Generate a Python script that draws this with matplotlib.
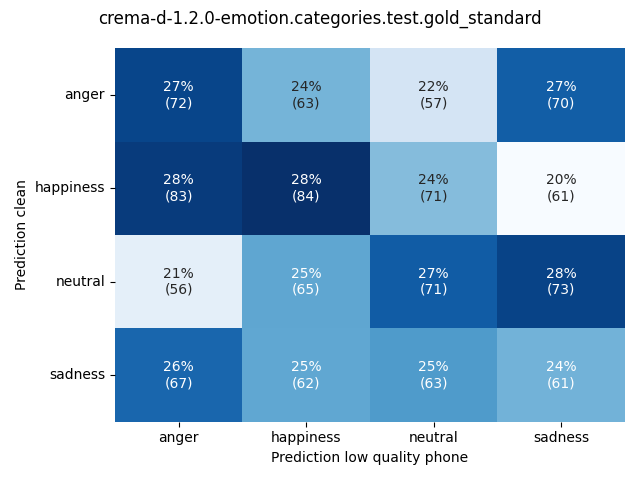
import numpy as np
import matplotlib
matplotlib.use("Agg")
import matplotlib.pyplot as plt
import seaborn as sns

labels = ["anger", "happiness", "neutral", "sadness"]
counts = np.array([
    [72, 63, 57, 70],
    [83, 84, 71, 61],
    [56, 65, 71, 73],
    [67, 62, 63, 61],
])

perc = counts / counts.sum(axis=1, keepdims=True) * 100
annot = np.array([[f"{perc[i, j]:.0f}%\n({counts[i, j]})" for j in range(4)] for i in range(4)])

fig, ax = plt.subplots(figsize=(6.4, 4.8), dpi=100)
sns.heatmap(perc, annot=annot, fmt="", cmap="Blues", cbar=False,
            xticklabels=labels, yticklabels=labels, ax=ax)
ax.set_yticklabels(labels, rotation=0)
ax.set_xlabel("Prediction low quality phone")
ax.set_ylabel("Prediction clean")
fig.suptitle("crema-d-1.2.0-emotion.categories.test.gold_standard")
fig.tight_layout()
fig.savefig("out.png", dpi=100)
